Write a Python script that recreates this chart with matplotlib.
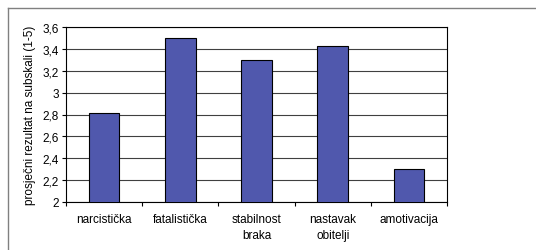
import numpy as np
import matplotlib.pyplot as plt
from matplotlib.lines import Line2D

kategorije = ['narcistička', 'fatalistička', 'stabilnost\nbraka', 'nastavak\nobitelji', 'amotivacija']
vrijednosti = [2.81, 3.50, 3.30, 3.43, 2.30]
y_tickovi = [2.0, 2.2, 2.4, 2.6, 2.8, 3.0, 3.2, 3.4, 3.6]
y_oznake = ['2', '2,2', '2,4', '2,6', '2,8', '3', '3,2', '3,4', '3,6']

plt.rcParams['font.family'] = ['Liberation Sans', 'DejaVu Sans']

fig = plt.figure(figsize=(5.36, 2.51), dpi=100)
ax = fig.add_axes([66/536, 1 - 203/251, (447-66)/536, (203-28)/251])

x = np.arange(len(kategorije))
ax.bar(x, vrijednosti, 0.4, bottom=0, color='#5058ad', edgecolor='black', linewidth=0.8, zorder=3)
ax.set_ylim(2, 3.6)
ax.set_xlim(-0.5, len(kategorije) - 0.5)
ax.set_yticks(y_tickovi)
ax.set_yticklabels(y_oznake, fontsize=8.5)
ax.yaxis.grid(True, color='#404040', linewidth=0.8, zorder=0)

# crtice na granicama kategorija
ax.set_xticks(np.arange(len(kategorije) + 1) - 0.5)
ax.set_xticklabels([])
ax.set_xticks(x, minor=True)
ax.set_xticklabels(kategorije, minor=True, fontsize=8.5, linespacing=1.45)
ax.tick_params(axis='x', which='minor', length=0, pad=8)
ax.tick_params(axis='x', which='major', length=3, width=0.8, direction='out')
ax.tick_params(axis='y', length=3, width=0.8, direction='out', pad=2)

for s in ax.spines.values():
    s.set_linewidth(0.8)
    s.set_color('black')

ax.set_ylabel('prosječni rezultat na subskali (1-5)', fontsize=8.5, labelpad=5)

# vanjski okvir (lijevo i gore)
fig.add_artist(Line2D([7.5/536, 7.5/536], [0, 1 - 8.5/251], color='#808080', linewidth=1, transform=fig.transFigure))
fig.add_artist(Line2D([7.5/536, 1], [1 - 8.5/251, 1 - 8.5/251], color='#808080', linewidth=1, transform=fig.transFigure))

fig.savefig('out.png', dpi=100)
